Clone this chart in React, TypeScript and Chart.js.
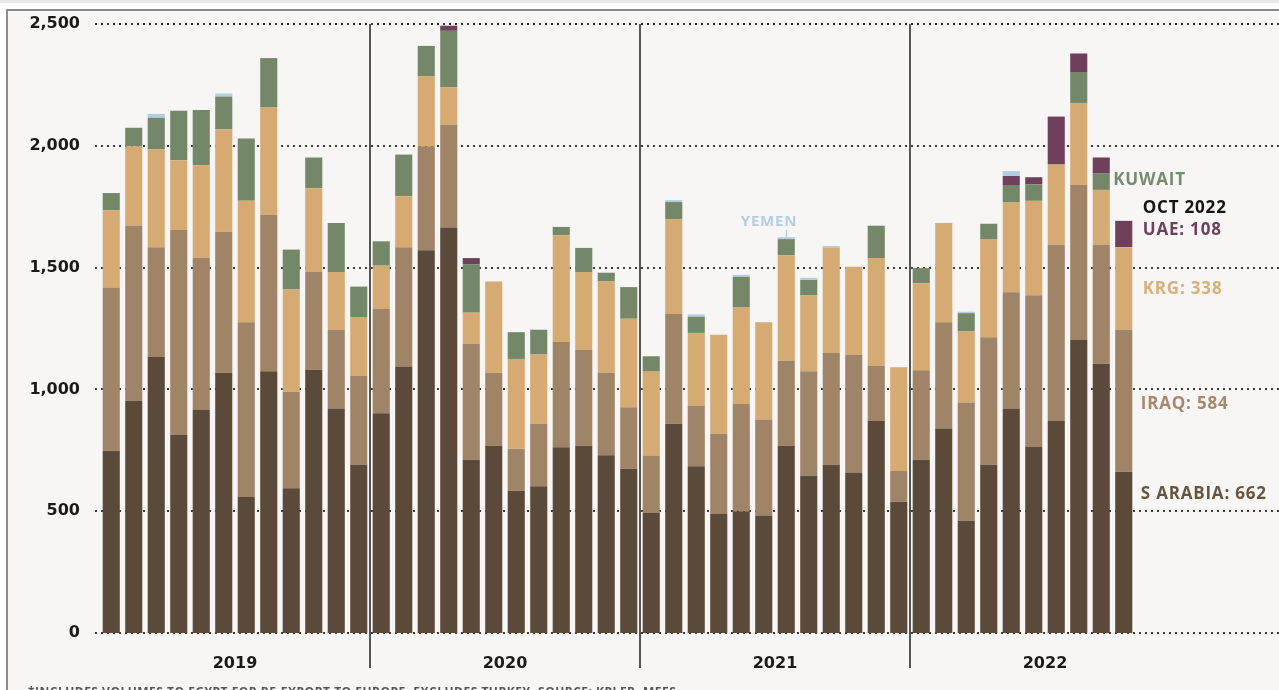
import React, { useEffect, useRef } from 'react';
import { Chart, registerables } from 'chart.js';

Chart.register(...registerables);

const months = [
  'Jan 2019', 'Feb 2019', 'Mar 2019', 'Apr 2019', 'May 2019', 'Jun 2019', 'Jul 2019', 'Aug 2019', 'Sep 2019', 'Oct 2019', 'Nov 2019', 'Dec 2019',
  'Jan 2020', 'Feb 2020', 'Mar 2020', 'Apr 2020', 'May 2020', 'Jun 2020', 'Jul 2020', 'Aug 2020', 'Sep 2020', 'Oct 2020', 'Nov 2020', 'Dec 2020',
  'Jan 2021', 'Feb 2021', 'Mar 2021', 'Apr 2021', 'May 2021', 'Jun 2021', 'Jul 2021', 'Aug 2021', 'Sep 2021', 'Oct 2021', 'Nov 2021', 'Dec 2021',
  'Jan 2022', 'Feb 2022', 'Mar 2022', 'Apr 2022', 'May 2022', 'Jun 2022', 'Jul 2022', 'Aug 2022', 'Sep 2022', 'Oct 2022', 'Nov 2022', 'Dec 2022',
];

const years = ['2019', '2020', '2021', '2022'];

const yTicks = [0, 500, 1000, 1500, 2000, 2500];

const sArabia = [
  748, 953, 1133, 813, 915, 1068, 558, 1074, 594, 1081, 922, 691,
  902, 1094, 1571, 1665, 711, 769, 584, 602, 763, 769, 730, 674,
  493, 859, 685, 489, 500, 482, 769, 646, 691, 659, 870, 539,
  711, 839, 461, 691, 922, 764, 870, 1203, 1105, 662,
];

const iraq = [
  670, 720, 451, 841, 625, 579, 718, 643, 396, 401, 324, 364,
  429, 490, 427, 421, 475, 299, 172, 257, 432, 393, 338, 253,
  236, 451, 248, 329, 440, 394, 349, 428, 458, 482, 227, 126,
  368, 437, 485, 523, 477, 622, 724, 636, 489, 584,
];

const krg = [
  317, 325, 401, 287, 380, 421, 498, 440, 420, 344, 236, 242,
  177, 209, 287, 155, 129, 375, 369, 284, 438, 320, 375, 363,
  344, 388, 299, 406, 396, 400, 432, 312, 432, 362, 442, 426,
  357, 407, 292, 401, 368, 388, 329, 337, 225, 338,
];

const kuwait = [
  71, 76, 130, 203, 227, 134, 256, 203, 164, 126, 201, 125,
  100, 171, 125, 231, 199, 0, 110, 102, 34, 99, 36, 130,
  63, 71, 66, 0, 126, 0, 67, 63, 0, 0, 133, 0,
  62, 0, 75, 65, 72, 68, 0, 127, 69, 0,
];

const uae = [
  0, 0, 0, 0, 0, 0, 0, 0, 0, 0, 0, 0,
  0, 0, 0, 21, 25, 0, 0, 0, 0, 0, 0, 0,
  0, 0, 0, 0, 0, 0, 0, 0, 0, 0, 0, 0,
  0, 0, 0, 0, 37, 29, 197, 76, 64, 108,
];

const yemen = [
  0, 0, 16, 0, 0, 13, 0, 0, 0, 0, 0, 0,
  0, 0, 0, 0, 0, 0, 0, 0, 0, 0, 0, 0,
  0, 8, 10, 0, 8, 0, 8, 9, 8, 0, 0, 0,
  0, 0, 6, 0, 20, 0, 0, 0, 0, 0,
];

const seriesNames = ['S Arabia', 'Iraq', 'KRG', 'Kuwait', 'UAE', 'Yemen'];
const seriesColors = ['#5b4a3a', '#a08468', '#d5aa73', '#748768', '#6e405c', '#b2cce0'];

const footnote = '*INCLUDES VOLUMES TO EGYPT FOR RE-EXPORT TO EUROPE. EXCLUDES TURKEY. SOURCE: KPLER, MEES';

const decorPlugin = {
  id: 'decor',
  beforeDraw(chart: any) {
    const { ctx, width: W, height: H } = chart;
    const ys = chart.scales.y;
    const xs = chart.scales.x;
    ctx.save();
    ctx.fillStyle = '#ffffff';
    ctx.fillRect(0, 0, W, H);
    ctx.fillStyle = '#e9e9e9';
    ctx.fillRect(0, 0, W, 3);
    ctx.fillStyle = '#f7f6f4';
    ctx.fillRect(8, 11, W - 8, H - 11);
    ctx.strokeStyle = '#8c8c8c';
    ctx.lineWidth = 2;
    ctx.beginPath();
    ctx.moveTo(7, H);
    ctx.lineTo(7, 10);
    ctx.lineTo(W, 10);
    ctx.stroke();

    // dotted horizontal gridlines, extending to the right edge
    ctx.strokeStyle = '#3a3a3a';
    ctx.lineWidth = 2;
    ctx.setLineDash([2, 4]);
    ys.ticks.forEach((t: any) => {
      const py = Math.round(ys.getPixelForValue(t.value));
      ctx.beginPath();
      ctx.moveTo(95, py);
      ctx.lineTo(W, py);
      ctx.stroke();
    });
    ctx.setLineDash([]);

    // year separators
    ctx.strokeStyle = '#555555';
    ctx.lineWidth = 2;
    const top = ys.getPixelForValue(2500);
    [11, 23, 35].forEach((i) => {
      const px = Math.round((xs.getPixelForValue(i) + xs.getPixelForValue(i + 1)) / 2);
      ctx.beginPath();
      ctx.moveTo(px, top);
      ctx.lineTo(px, 668);
      ctx.stroke();
    });
    ctx.restore();
  },
  afterDraw(chart: any) {
    const { ctx } = chart;
    const ys = chart.scales.y;
    const xs = chart.scales.x;
    ctx.save();
    (ctx as any).letterSpacing = '0.8px';
    ctx.textBaseline = 'middle';
    ctx.textAlign = 'left';
    ctx.font = 'bold 17px "Open Sans", "DejaVu Sans", sans-serif';

    const sep = 44;
    const kuwaitMid = sArabia[sep] + iraq[sep] + krg[sep] + kuwait[sep] / 2;
    ctx.fillStyle = '#738c6f';
    ctx.fillText('KUWAIT', xs.getPixelForValue(sep) + 12, ys.getPixelForValue(kuwaitMid) - 1);

    const last = 45;
    const lx = xs.getPixelForValue(last) + 19;
    ctx.fillStyle = '#141414';
    ctx.fillText('OCT 2022', lx, ys.getPixelForValue(1745));
    ctx.fillStyle = '#6e405c';
    ctx.fillText('UAE: ' + uae[last], lx, ys.getPixelForValue(1655));
    ctx.fillStyle = '#d8b07a';
    ctx.fillText('KRG: ' + krg[last], lx, ys.getPixelForValue(1410));
    ctx.fillStyle = '#a6896c';
    ctx.fillText('IRAQ: ' + iraq[last], lx - 2, ys.getPixelForValue(940));
    ctx.fillStyle = '#66553f';
    ctx.fillText('S ARABIA: ' + sArabia[last], lx - 2, ys.getPixelForValue(570));

    // Yemen callout
    const yi = 30;
    const yx = xs.getPixelForValue(yi);
    const yTop = sArabia[yi] + iraq[yi] + krg[yi] + kuwait[yi] + uae[yi] + yemen[yi];
    const yemenLabel = 1688;
    ctx.fillStyle = '#b5cde0';
    ctx.textAlign = 'right';
    ctx.font = 'bold 15px "Open Sans", "DejaVu Sans", sans-serif';
    ctx.fillText('YEMEN', yx + 11, ys.getPixelForValue(yemenLabel));
    ctx.strokeStyle = '#b5cde0';
    ctx.lineWidth = 1.5;
    ctx.beginPath();
    ctx.moveTo(Math.round(yx) + 0.5, ys.getPixelForValue(yemenLabel) + 8);
    ctx.lineTo(Math.round(yx) + 0.5, ys.getPixelForValue(yTop));
    ctx.stroke();

    // footnote (cut by bottom edge)
    (ctx as any).letterSpacing = '0.5px';
    ctx.textAlign = 'left';
    ctx.textBaseline = 'top';
    ctx.fillStyle = '#555555';
    ctx.font = 'bold 12px "Open Sans", "DejaVu Sans", sans-serif';
    ctx.fillText(footnote, 28, 687);
    ctx.restore();
  },
};

export default function App() {
  const ref = useRef<HTMLCanvasElement>(null);

  useEffect(() => {
    document.body.style.margin = '0';
    const seriesData = [sArabia, iraq, krg, kuwait, uae, yemen];
    const chart = new Chart(ref.current as HTMLCanvasElement, {
      type: 'bar',
      data: {
        labels: months,
        datasets: seriesNames.map((name, i) => ({
          label: name,
          data: seriesData[i],
          backgroundColor: seriesColors[i],
          borderWidth: 0,
          barPercentage: 0.76,
          categoryPercentage: 1,
          xAxisID: 'x',
        })),
      },
      options: {
        responsive: false,
        animation: false,
        devicePixelRatio: 1,
        layout: { padding: { top: 24, right: 99, left: 0, bottom: 0 } },
        plugins: {
          legend: { display: false },
          tooltip: { enabled: false },
        },
        scales: {
          x: {
            display: false,
            stacked: true,
            offset: true,
            grid: { display: false },
          },
          x2: {
            type: 'category',
            labels: years,
            position: 'bottom',
            offset: true,
            grid: { display: false, drawTicks: false },
            border: { display: false },
            ticks: {
              padding: 21,
              color: '#1a1a1a',
              font: { family: '"DejaVu Sans", sans-serif', weight: 'bold', size: 16 },
            },
            afterFit: (s: any) => {
              s.height = 57;
              s.paddingLeft = 0;
              s.paddingRight = 0;
            },
          },
          y: {
            stacked: true,
            min: 0,
            max: 2500,
            afterBuildTicks: (s: any) => {
              s.ticks = yTicks.map((v) => ({ value: v }));
            },
            ticks: {
              padding: 20,
              color: '#1a1a1a',
              font: { family: '"DejaVu Sans", sans-serif', weight: 'bold', size: 16 },
              callback: (v: any) => Number(v).toLocaleString('en-US'),
            },
            grid: { display: false, drawTicks: false },
            border: { display: false },
            afterFit: (s: any) => {
              s.width = 100;
              s.paddingTop = 0;
              s.paddingBottom = 0;
            },
          },
        },
      },
      plugins: [decorPlugin],
    } as any);
    return () => chart.destroy();
  }, []);

  return (
    <div style={{ width: 1279, height: 690, overflow: 'hidden' }}>
      <canvas ref={ref} width={1279} height={690} style={{ display: 'block', width: 1279, height: 690 }} />
    </div>
  );
}
